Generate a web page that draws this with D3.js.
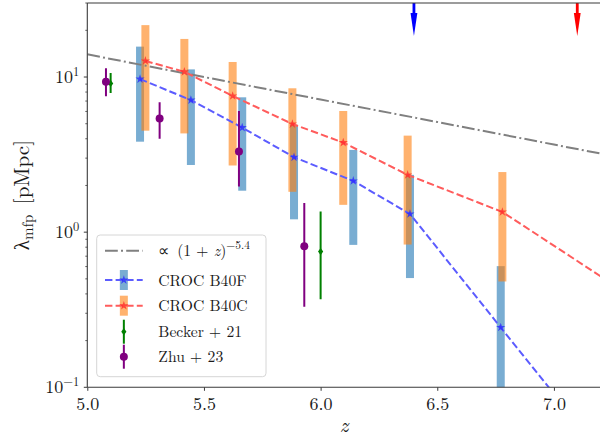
<!DOCTYPE html>
<html>
<head>
<meta charset="utf-8">
<script src="https://cdn.jsdelivr.net/npm/d3@7"></script>
<style>
  html, body { margin: 0; padding: 0; background: #fff; }
  svg { display: block; }
</style>
</head>
<body>
<svg id="chart" width="600" height="439"></svg>
<script>
// Power-law reference curve
const refZ = [5.0, 5.5, 6.0, 6.5, 7.0, 7.2];
const refL = [14.0, 10.0, 7.16, 5.13, 3.67, 3.21];

// CROC B40F: mean free path and spread
const fZ  = [5.226, 5.444, 5.664, 5.886, 6.140, 6.383, 6.772, 7.10];
const fL  = [9.7, 7.1, 4.72, 3.04, 2.14, 1.31, 0.243, 0.059];
const fLo = [3.83, 2.71, 1.85, 1.21, 0.828, 0.506, 0.05];
const fHi = [15.7, 11.2, 7.40, 4.91, 3.39, 2.34, 0.604];

// CROC B40C: mean free path and spread
const cZ  = [5.249, 5.416, 5.623, 5.879, 6.097, 6.373, 6.779, 7.40];
const cL  = [12.7, 10.8, 7.55, 4.98, 3.78, 2.34, 1.35, 0.33];
const cLo = [4.51, 4.33, 2.69, 1.82, 1.50, 0.832, 0.481];
const cHi = [21.6, 17.6, 12.5, 8.46, 6.04, 4.19, 2.44];

// Becker et al. 2021
const beckerZ  = [5.1, 6.0];
const beckerL  = [9.09, 0.75];
const beckerHi = [10.6, 1.36];
const beckerLo = [7.9, 0.37];

// Zhu et al. 2023
const zhuZ  = [5.08, 5.31, 5.65, 5.93];
const zhuL  = [9.33, 5.40, 3.31, 0.81];
const zhuUp = [2.06, 1.47, 2.74, 0.73];
const zhuDn = [1.80, 1.40, 1.34, 0.48];

// End of reionization in each run
const endZ = [6.40, 7.10];

// Axis ticks
const xTicks = [5.0, 5.5, 6.0, 6.5, 7.0];
const yMajor = [0.1, 1, 10];
const yMajorExp = ["\u22121", "0", "1"];

const FONT = "'Latin Modern Roman', 'Liberation Serif', serif";
const colors = {
  ref: "#808080",
  fLine: "#5c5cff", fStar: "#2a2aff", fBar: "#1f77b4",
  cLine: "#ff5c5c", cStar: "#ff2a2a", cBar: "#ff7f0e",
  becker: "#008000", zhu: "#800080",
  endF: "#0000ff", endC: "#ff0000",
  ink: "#1a1a1a"
};

const svg = d3.select("#chart").style("font-family", FONT);
const L = 87.3, R = 600.6, T = 3, B = 387.3;

const x = d3.scaleLinear().domain([5.0, 7.2]).range([L, R]);
const y = d3.scaleLog().domain([0.1, 30]).range([B, T]);

svg.append("defs").append("clipPath").attr("id", "plot")
  .append("rect").attr("x", L).attr("y", T).attr("width", R - L).attr("height", B - T);

const plot = svg.append("g").attr("clip-path", "url(#plot)");

function txt(sel) {
  return sel.style("font-family", FONT).attr("fill", colors.ink);
}

// Spread bars
const barW = 8;
function bars(zs, lo, hi, color) {
  plot.append("g").selectAll("rect")
    .data(lo.map((d, i) => ({ z: zs[i], lo: d, hi: hi[i] })))
    .join("rect")
    .attr("x", d => x(d.z) - barW / 2)
    .attr("width", barW)
    .attr("y", d => y(d.hi))
    .attr("height", d => y(d.lo) - y(d.hi))
    .attr("fill", color)
    .attr("fill-opacity", 0.6);
}
bars(fZ, fLo, fHi, colors.fBar);
bars(cZ, cLo, cHi, colors.cBar);

const line = d3.line().x(d => x(d[0])).y(d => y(d[1]));

// Reference power law
plot.append("path")
  .datum(refZ.map((z, i) => [z, refL[i]]))
  .attr("d", line).attr("fill", "none")
  .attr("stroke", colors.ref).attr("stroke-width", 2)
  .attr("stroke-dasharray", "12.8,3.2,2,3.2");

const star = d3.symbol().type(d3.symbolStar).size(26);

function simSeries(zs, ls, lineColor, starColor) {
  plot.append("path")
    .datum(zs.map((z, i) => [z, ls[i]]))
    .attr("d", line).attr("fill", "none")
    .attr("stroke", lineColor).attr("stroke-width", 2)
    .attr("stroke-dasharray", "7.4,3.2");
  plot.append("g").selectAll("path")
    .data(zs.map((z, i) => [z, ls[i]]))
    .join("path")
    .attr("d", star)
    .attr("transform", d => `translate(${x(d[0])},${y(d[1])})`)
    .attr("fill", starColor).attr("fill-opacity", 0.8);
}
simSeries(fZ, fL, colors.fLine, colors.fStar);
simSeries(cZ, cL, colors.cLine, colors.cStar);

// Observations
function errPoints(zs, ls, his, los, color, marker) {
  const g = plot.append("g");
  const data = zs.map((z, i) => ({ z, l: ls[i], hi: his[i], lo: los[i] }));
  g.selectAll("line").data(data).join("line")
    .attr("x1", d => x(d.z)).attr("x2", d => x(d.z))
    .attr("y1", d => y(d.hi)).attr("y2", d => y(d.lo))
    .attr("stroke", color).attr("stroke-width", 2);
  g.selectAll("path").data(data).join("path")
    .attr("d", marker)
    .attr("transform", d => `translate(${x(d.z)},${y(d.l)})`)
    .attr("fill", color);
}
const diamond = "M0,-3.6L2.6,0L0,3.6L-2.6,0Z";
const circle = d3.symbol().type(d3.symbolCircle).size(50)();
errPoints(beckerZ, beckerL, beckerHi, beckerLo, colors.becker, diamond);
errPoints(zhuZ, zhuL, zhuL.map((v, i) => v + zhuUp[i]), zhuL.map((v, i) => v - zhuDn[i]), colors.zhu, circle);

// Arrows marking the end of reionization
const arrowColors = [colors.endF, colors.endC];
const arrows = svg.append("g");
endZ.forEach((z, i) => {
  const cx = x(z);
  arrows.append("rect").attr("x", cx - 1.4).attr("y", T).attr("width", 2.8).attr("height", 12)
    .attr("fill", arrowColors[i]);
  arrows.append("path")
    .attr("d", `M${cx - 3.4},${T + 10}L${cx + 3.4},${T + 10}L${cx},${T + 33}Z`)
    .attr("fill", arrowColors[i]);
});

// Spines
const spine = "#3a3a3a";
svg.append("line").attr("x1", L).attr("x2", L).attr("y1", T).attr("y2", B).attr("stroke", spine).attr("stroke-width", 1.1);
svg.append("line").attr("x1", L).attr("x2", 600).attr("y1", B).attr("y2", B).attr("stroke", spine).attr("stroke-width", 1.1);
svg.append("line").attr("x1", L).attr("x2", 600).attr("y1", T).attr("y2", T).attr("stroke", spine).attr("stroke-width", 1.1);

// X axis
const xAxis = svg.append("g").attr("transform", `translate(0,${B})`)
  .call(d3.axisBottom(x).tickValues(xTicks).tickFormat(d3.format(".1f")).tickSize(3.5).tickPadding(6));
xAxis.select(".domain").remove();
xAxis.selectAll(".tick line").attr("stroke", spine);
txt(xAxis.selectAll(".tick text")).attr("font-size", 18);

txt(svg.append("text")).attr("x", (L + R) / 2).attr("y", 432)
  .attr("text-anchor", "middle").attr("font-size", 21).attr("font-style", "italic").text("z");

// Y axis: major ticks with power labels, minor ticks between
const yMinor = [];
[0.1, 1, 10].forEach(dec => { for (let k = 2; k <= 9; k++) { const v = dec * k; if (v <= 30) yMinor.push(v); } });
const yAxisG = svg.append("g");
yAxisG.selectAll("line.minor").data(yMinor).join("line")
  .attr("x1", L - 2).attr("x2", L).attr("y1", d => y(d)).attr("y2", d => y(d))
  .attr("stroke", spine).attr("stroke-width", 0.8);
yAxisG.selectAll("line.major").data(yMajor).join("line")
  .attr("x1", L - 3.5).attr("x2", L).attr("y1", d => y(d)).attr("y2", d => y(d))
  .attr("stroke", spine).attr("stroke-width", 1);
yMajor.forEach((v, i) => {
  const t = txt(yAxisG.append("text")).attr("x", L - 8).attr("y", y(v) + 6)
    .attr("text-anchor", "end").attr("font-size", 18);
  t.append("tspan").text("10");
  t.append("tspan").attr("dy", -7).attr("font-size", 12.5).text(yMajorExp[i]);
});

const yl = txt(svg.append("text"))
  .attr("transform", `translate(29,${(T + B) / 2}) rotate(-90)`)
  .attr("text-anchor", "middle").attr("font-size", 21);
yl.append("tspan").text("\u03bb");
yl.append("tspan").attr("dy", 4).attr("font-size", 15).text("mfp");
yl.append("tspan").attr("dy", -4).text("\u2002[pMpc]");

// Legend
const lg = svg.append("g");
lg.append("rect").attr("x", 96.7).attr("y", 235).attr("width", 169.3).attr("height", 141.7)
  .attr("rx", 3.5).attr("fill", "#fff").attr("fill-opacity", 0.8)
  .attr("stroke", "#d6d6d6").attr("stroke-width", 1);
const hx0 = 105, hx1 = 142.7, hcx = (hx0 + hx1) / 2, tx = 158.3;
const rows = [250.7, 280, 305.7, 331.7, 356.7];
const legendSize = 15.7;

lg.append("line").attr("x1", hx0).attr("x2", hx1).attr("y1", rows[0]).attr("y2", rows[0])
  .attr("stroke", colors.ref).attr("stroke-width", 2).attr("stroke-dasharray", "12.8,3.2,2,3.2");
const t0 = txt(lg.append("text")).attr("x", tx).attr("y", rows[0] + 5.5).attr("font-size", legendSize);
t0.append("tspan").text("\u221d\u2002(1 + ");
t0.append("tspan").attr("font-style", "italic").text("z");
t0.append("tspan").text(")");
t0.append("tspan").attr("dy", -7).attr("font-size", 11.5).text("\u22125.4");

function simHandle(row, barColor, lineColor, starColor, label) {
  lg.append("rect").attr("x", hcx - 4).attr("width", 8).attr("y", row - 10).attr("height", 20)
    .attr("fill", barColor).attr("fill-opacity", 0.6);
  lg.append("line").attr("x1", hx0).attr("x2", hx1).attr("y1", row).attr("y2", row)
    .attr("stroke", lineColor).attr("stroke-width", 2).attr("stroke-dasharray", "7.4,3.2");
  lg.append("path").attr("d", star).attr("transform", `translate(${hcx},${row})`)
    .attr("fill", starColor).attr("fill-opacity", 0.8);
  txt(lg.append("text")).attr("x", tx).attr("y", row + 5.5).attr("font-size", legendSize).text(label);
}
simHandle(rows[1], colors.fBar, colors.fLine, colors.fStar, "CROC B40F");
simHandle(rows[2], colors.cBar, colors.cLine, colors.cStar, "CROC B40C");

function obsHandle(row, color, marker, label) {
  lg.append("line").attr("x1", hcx).attr("x2", hcx).attr("y1", row - 12).attr("y2", row + 12)
    .attr("stroke", color).attr("stroke-width", 2);
  lg.append("path").attr("d", marker).attr("transform", `translate(${hcx},${row})`).attr("fill", color);
  txt(lg.append("text")).attr("x", tx).attr("y", row + 5.5).attr("font-size", legendSize).text(label);
}
obsHandle(rows[3], colors.becker, diamond, "Becker + 21");
obsHandle(rows[4], colors.zhu, circle, "Zhu + 23");
</script>
</body>
</html>
